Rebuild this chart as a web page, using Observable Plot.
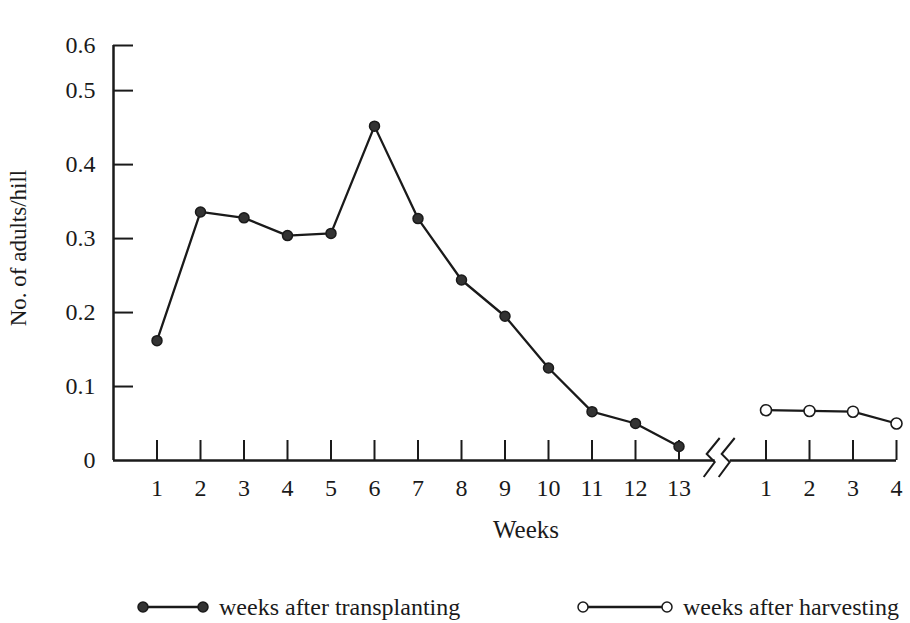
<!DOCTYPE html>
<html><head><meta charset="utf-8">
<script src="https://cdn.jsdelivr.net/npm/d3@7"></script>
<script src="https://cdn.jsdelivr.net/npm/@observablehq/plot@0.6"></script>
<style>
body{margin:0;background:#fff;font-family:"Liberation Serif",serif;}
#legend{position:relative;height:63px;width:910px;}
.item{position:absolute;top:32px;display:flex;align-items:center;font-size:24px;color:#1a1a1a;line-height:30px;}
.item svg{margin-right:10px;}
</style></head><body>
<div id="chart"></div>
<div id="legend"></div>
<script>
const transplantWeeks = [1,2,3,4,5,6,7,8,9,10,11,12,13];
const transplantValues = [0.162,0.336,0.328,0.304,0.307,0.452,0.327,0.244,0.195,0.125,0.066,0.050,0.019];
const harvestWeeks = [1,2,3,4];
const harvestValues = [0.068,0.067,0.066,0.050];
const harvestOffset = 14;          // harvest weeks placed after the axis break
const breakX = 13.97;
const yTickValues = [0,0.1,0.2,0.3,0.4,0.5,0.561];
const yTickLabels = ["0","0.1","0.2","0.3","0.4","0.5","0.6"];
const xLabel = "Weeks";
const yLabel = "No. of adults/hill";
const legendLabels = ["weeks after transplanting","weeks after harvesting"];

const ink = "#1a1a1a";
const transplant = transplantWeeks.map((w,i)=>({x:w, label:String(w), v:transplantValues[i]}));
const harvest = harvestWeeks.map((w,i)=>({x:w+harvestOffset, label:String(w), v:harvestValues[i]}));
const xTicks = [...transplant, ...harvest];
const yTicks = yTickValues.map((v,i)=>({v, label:yTickLabels[i]}));

const breakMark = (index, {x, y}) => {
  const cx = x(breakX), cy = y(0);
  const g = d3.create("svg:g").attr("fill","none").attr("stroke",ink).attr("stroke-width",2);
  for (const ox of [-7, 8]) {
    const a = cx + ox;
    g.append("path").attr("d", `M${a+6},${cy-22}L${a-7},${cy-6}L${a+1},${cy+2}L${a-10},${cy+17}`);
  }
  return g.node();
};

const chart = Plot.plot({
  width: 910, height: 560,
  marginLeft: 113, marginRight: 14, marginTop: 45, marginBottom: 100,
  style: {fontFamily: "Liberation Serif", fontSize: "24px", color: ink, background: "#fff"},
  x: {domain: [0, 18], axis: null},
  y: {domain: [0, 0.561], axis: null},
  marks: [
    Plot.ruleX([0], {stroke: ink, strokeWidth: 2.5}),
    Plot.ruleY([0], {x1: 0, x2: breakX, stroke: ink, strokeWidth: 2.5, insetRight: 6}),
    Plot.ruleY([0], {x1: breakX, x2: 18, stroke: ink, strokeWidth: 2.5, insetLeft: 9}),
    breakMark,
    Plot.ruleX(xTicks, {x: "x", y1: 0, y2: 0, insetTop: -20, stroke: ink, strokeWidth: 2}),
    Plot.ruleY(yTicks.filter(d => d.v > 0), {y: "v", x1: 0, x2: 0, insetRight: -20, stroke: ink, strokeWidth: 2}),
    Plot.text(xTicks, {x: "x", y: 0, text: "label", dy: 28, fontSize: 24, fill: ink}),
    Plot.text(yTicks, {x: 0, y: "v", text: "label", dx: -18, textAnchor: "end", fontSize: 24, fill: ink}),
    Plot.text([xLabel], {frameAnchor: "bottom", dy: 77, dx: 21, fontSize: 25, fill: ink}),
    Plot.text([yLabel], {frameAnchor: "left", textAnchor: "middle", dx: -95, dy: -5, rotate: -90, fontSize: 23, fill: ink}),
    Plot.line(transplant, {x: "x", y: "v", stroke: ink, strokeWidth: 2.3}),
    Plot.dot(transplant, {x: "x", y: "v", r: 5, fill: "#333", stroke: ink, strokeWidth: 1.5}),
    Plot.line(harvest, {x: "x", y: "v", stroke: ink, strokeWidth: 2.3}),
    Plot.dot(harvest, {x: "x", y: "v", r: 5.5, fill: "#fff", stroke: ink, strokeWidth: 1.6})
  ]
});
document.getElementById("chart").append(chart);

const legend = document.getElementById("legend");
const items = [
  {left: 137, label: legendLabels[0], fill: "#333", w: 72},
  {left: 577, label: legendLabels[1], fill: "#fff", w: 96}
];
for (const it of items) {
  const div = document.createElement("div");
  div.className = "item";
  div.style.left = it.left + "px";
  div.innerHTML = `<svg width="${it.w}" height="14"><line x1="6" x2="${it.w-6}" y1="7" y2="7" stroke="${ink}" stroke-width="2.3"/><circle cx="6" cy="7" r="5" fill="${it.fill}" stroke="${ink}" stroke-width="1.5"/><circle cx="${it.w-6}" cy="7" r="5" fill="${it.fill}" stroke="${ink}" stroke-width="1.5"/></svg><span>${it.label}</span>`;
  legend.append(div);
}
</script>
</body></html>
